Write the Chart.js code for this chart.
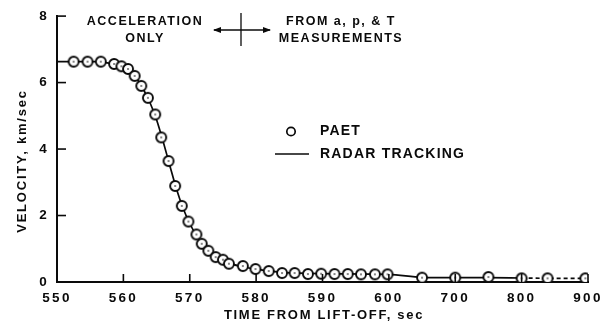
<!DOCTYPE html>
<html>
<head>
<meta charset="utf-8">
<script src="https://cdn.jsdelivr.net/npm/chart.js@4.4.0/dist/chart.umd.min.js"></script>
<style>
html, body { margin: 0; padding: 0; background: #fff; }
</style>
</head>
<body>
<canvas id="c" width="615" height="323"></canvas>
<script>
// x axis is broken: 550-600 in 10 s steps, then 600-900 in 100 s steps
var xTickLabels = ['550', '560', '570', '580', '590', '600', '700', '800', '900'];
var yTicks = [0, 2, 4, 6, 8];

// PAET points (time from lift-off, velocity km/sec)
var paetTime = [552.5, 554.6, 556.6, 558.6, 559.7, 560.7, 561.7, 562.7, 563.7, 564.8,
    565.7, 566.8, 567.8, 568.8, 569.8, 571.0, 571.8, 572.8, 573.9, 575.0,
    575.9, 578.0, 579.9, 581.9, 583.9, 585.8, 587.8, 589.8, 591.8, 593.8,
    595.8, 597.9, 599.8, 650, 700, 750, 800, 839, 896];
var paetVel = [6.63, 6.63, 6.63, 6.56, 6.49, 6.41, 6.20, 5.90, 5.54, 5.04,
    4.35, 3.64, 2.89, 2.29, 1.82, 1.43, 1.15, 0.94, 0.75, 0.67,
    0.55, 0.48, 0.39, 0.33, 0.27, 0.27, 0.24, 0.25, 0.24, 0.24,
    0.23, 0.23, 0.23, 0.13, 0.13, 0.15, 0.11, 0.11, 0.11];

// radar tracking curve
var radarTime = [550, 556, 558, 560, 561, 562, 563, 564, 565, 566, 567, 568, 569, 570,
    571, 572, 573, 574, 576, 578, 580, 584, 590, 600, 650, 700, 750, 800, 850, 900];
var radarVel = [6.63, 6.63, 6.58, 6.46, 6.33, 6.12, 5.80, 5.40, 4.88, 4.22, 3.50, 2.80, 2.22, 1.76,
    1.40, 1.12, 0.91, 0.75, 0.56, 0.46, 0.39, 0.29, 0.25, 0.23, 0.14, 0.13, 0.13, 0.12, 0.11, 0.11];

var ink = '#0a0a0a';
var fam = "'Liberation Sans', Arial, Helvetica, sans-serif";

function axisPos(t) {
    return t <= 600 ? (t - 550) / 10 : 5 + (t - 600) / 100;
}

function toPoints(ts, vs) {
    var out = [];
    for (var i = 0; i < ts.length; i++) {
        out.push({ x: axisPos(ts[i]), y: vs[i] });
    }
    return out;
}

// open circle with a dot in the middle
function makeMarker() {
    var m = document.createElement('canvas');
    m.width = 14; m.height = 14;
    var g = m.getContext('2d');
    g.beginPath();
    g.arc(7, 7, 5, 0, Math.PI * 2);
    g.fillStyle = '#fff';
    g.fill();
    g.lineWidth = 1.9;
    g.strokeStyle = ink;
    g.stroke();
    g.fillStyle = ink;
    g.fillRect(6.3, 6.3, 1.4, 1.4);
    return m;
}

function line(ctx, x1, y1, x2, y2) {
    ctx.beginPath();
    ctx.moveTo(x1, y1);
    ctx.lineTo(x2, y2);
    ctx.stroke();
}

function arrowHead(ctx, x, y, dir) {
    ctx.beginPath();
    ctx.moveTo(x, y);
    ctx.lineTo(x - dir * 8, y - 3);
    ctx.lineTo(x - dir * 8, y + 3);
    ctx.closePath();
    ctx.fill();
}

function text(ctx, s, x, y, size, spacing, align) {
    ctx.font = 'bold ' + size + 'px ' + fam;
    ctx.letterSpacing = spacing + 'px';
    ctx.textAlign = align || 'center';
    ctx.textBaseline = 'middle';
    ctx.fillText(s, x, y);
}

var extras = {
    id: 'extras',
    beforeDraw: function (chart) {
        chart.ctx.letterSpacing = '2.3px';
    },
    afterDraw: function (chart) {
        var ctx = chart.ctx;
        var xs = chart.scales.x, ys = chart.scales.y;
        ctx.save();
        ctx.strokeStyle = ink;
        ctx.fillStyle = ink;
        ctx.lineWidth = 1.6;

        // inward tick marks
        yTicks.forEach(function (v) {
            if (v === 0) return;
            var py = ys.getPixelForValue(v);
            line(ctx, xs.left, py, xs.left + 9, py);
        });
        for (var i = 1; i < xTickLabels.length; i++) {
            var px = xs.getPixelForValue(i);
            line(ctx, px, ys.bottom, px, ys.bottom - 8);
        }

        // region note at top
        text(ctx, 'ACCELERATION', 145, 22, 12.5, 1.5);
        text(ctx, 'ONLY', 145, 39, 12.5, 1.5);
        text(ctx, 'FROM a, p, & T', 341, 22, 12.5, 1.5);
        text(ctx, 'MEASUREMENTS', 341, 39, 12.5, 1.5);
        ctx.lineWidth = 1.3;
        line(ctx, 214, 30, 270, 30);
        arrowHead(ctx, 213, 30, -1);
        arrowHead(ctx, 271, 30, 1);
        line(ctx, 241, 13, 241, 46);

        // legend
        ctx.lineWidth = 1.7;
        ctx.beginPath();
        ctx.arc(291, 131.5, 4.2, 0, Math.PI * 2);
        ctx.stroke();
        text(ctx, 'PAET', 320, 131.5, 14, 1.2, 'left');
        line(ctx, 275, 154, 309, 154);
        text(ctx, 'RADAR TRACKING', 320, 154, 14, 1.2, 'left');

        // axis titles
        text(ctx, 'TIME FROM LIFT-OFF, sec', 324, 315, 13, 1.7);
        ctx.save();
        ctx.translate(22, 161);
        ctx.rotate(-Math.PI / 2);
        text(ctx, 'VELOCITY, km/sec', 0, 0, 13, 1.8);
        ctx.restore();

        ctx.restore();
        ctx.letterSpacing = '0px';
    }
};

var chart = new Chart(document.getElementById('c'), {
    type: 'scatter',
    data: {
        datasets: [{
            label: 'PAET',
            data: toPoints(paetTime, paetVel),
            pointStyle: makeMarker(),
            pointRadius: 6,
            showLine: false
        }, {
            label: 'RADAR TRACKING',
            data: toPoints(radarTime, radarVel),
            showLine: true,
            pointRadius: 0,
            borderColor: ink,
            borderWidth: 1.7,
            cubicInterpolationMode: 'monotone',
            segment: {
                borderDash: function (c) { return c.p0.parsed.x >= 7 ? [4, 3] : undefined; }
            }
        }]
    },
    options: {
        responsive: false,
        animation: false,
        devicePixelRatio: 1,
        layout: { padding: { top: 13, right: 27, left: 0, bottom: 0 } },
        plugins: { legend: { display: false }, tooltip: { enabled: false } },
        scales: {
            x: {
                type: 'linear',
                min: 0,
                max: 8,
                grid: { display: false, drawTicks: false },
                border: { display: true, color: ink, width: 2 },
                ticks: {
                    stepSize: 1,
                    padding: 8,
                    color: ink,
                    font: { family: fam, size: 13.5, weight: 'bold' },
                    callback: function (v) { return xTickLabels[v]; }
                },
                afterFit: function (s) { s.height = 41; }
            },
            y: {
                min: 0,
                max: 8,
                grid: { display: false, drawTicks: false },
                border: { display: true, color: ink, width: 2 },
                ticks: {
                    stepSize: 2,
                    padding: 8,
                    color: ink,
                    font: { family: fam, size: 13.5, weight: 'bold' }
                },
                afterFit: function (s) { s.width = 57; }
            }
        }
    },
    plugins: [extras]
});
</script>
</body>
</html>
